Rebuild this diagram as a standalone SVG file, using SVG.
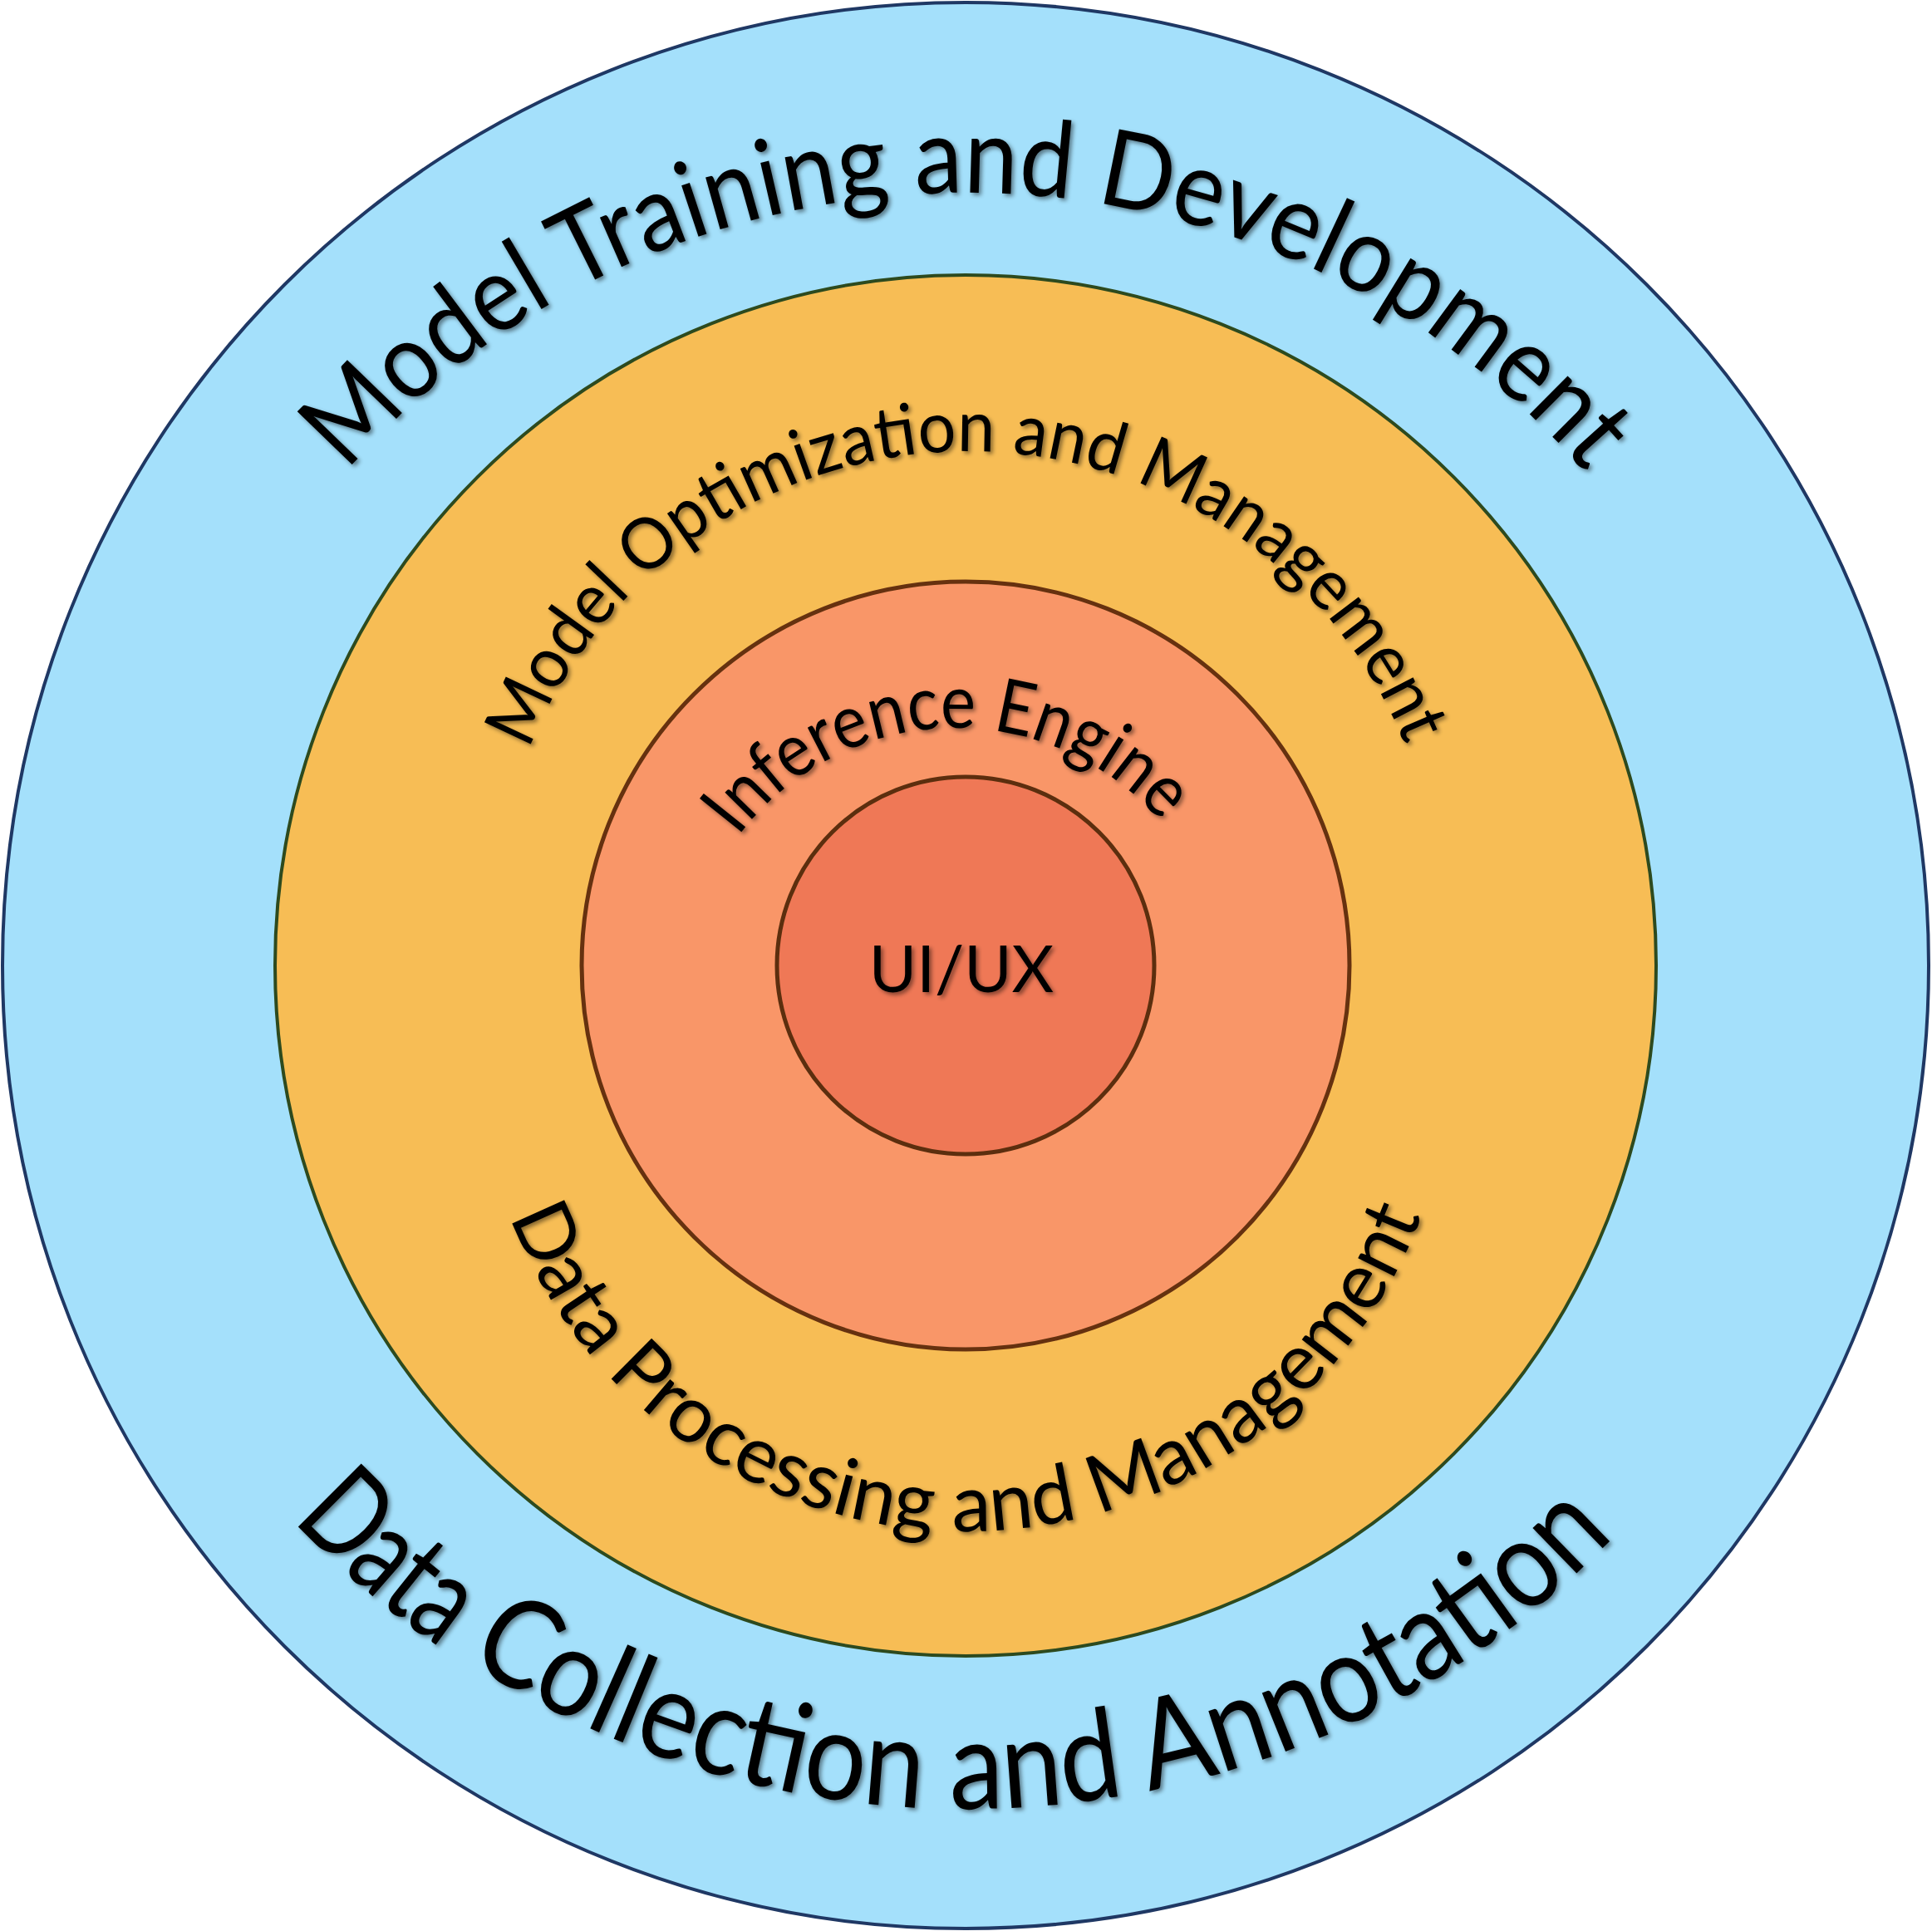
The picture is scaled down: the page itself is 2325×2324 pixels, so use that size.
<svg xmlns="http://www.w3.org/2000/svg" xmlns:xlink="http://www.w3.org/1999/xlink" width="2325" height="2324" viewBox="0 0 2325 2324">
<style>
.lbl{font-family:"Lato","Open Sans","Liberation Sans",sans-serif;fill:#000;filter:url(#sh)}
</style>
<defs>
<filter id="sh" x="-10%" y="-10%" width="120%" height="120%">
<feDropShadow dx="3" dy="3" stdDeviation="2.5" flood-color="#000" flood-opacity="0.45"/>
</filter>
<path id="p1" d="M417.5,567.6 A968,930 0 0 1 1906.5,567.6"/>
<path id="p2a" d="M352.2,1829.6 A1075,1015 0 0 0 558.5,2002"/>
<path id="p2b" d="M561.2,1998.2 A1060,1015 0 0 0 1940.6,1850.8"/>
<path id="p3" d="M636.6,902.8 A568,568 0 0 1 1690.9,896.4"/>
<path id="p4" d="M613.8,1464.1 A586,586 0 0 0 1710.2,1464.1"/>
<path id="p5" d="M888,1007 A327,327 0 0 1 1397,989"/>
</defs>
<rect width="2325" height="2324" fill="#fff"/>
<g id="ring-data-collection">
<circle cx="1162" cy="1162" r="1159" fill="#A4E0FB" stroke="#1F3864" stroke-width="4"/>
<text class="lbl" font-size="128"><textPath xlink:href="#p1" href="#p1" textLength="1686" lengthAdjust="spacingAndGlyphs">Model Training and Development</textPath></text>
<text class="lbl" font-size="150" xml:space="preserve"><textPath xlink:href="#p2a" href="#p2a" textLength="265" lengthAdjust="spacingAndGlyphs">Data </textPath><textPath xlink:href="#p2b" href="#p2b" textLength="1506" lengthAdjust="spacingAndGlyphs">Collection and Annotation</textPath></text>
</g>
<g id="ring-model-optimization">
<circle cx="1162" cy="1162" r="831" fill="#F7BD55" stroke="#2D4A1E" stroke-width="4"/>
<text class="lbl" font-size="86"><textPath xlink:href="#p3" href="#p3" textLength="1351" lengthAdjust="spacingAndGlyphs">Model Optimization and Management</textPath></text>
<text class="lbl" font-size="96"><textPath xlink:href="#p4" href="#p4" textLength="1418" lengthAdjust="spacingAndGlyphs">Data Processing and Management</textPath></text>
</g>
<g id="ring-inference-engine">
<circle cx="1162" cy="1162" r="462" fill="#F99668" stroke="#66310F" stroke-width="5"/>
<text class="lbl" font-size="90"><textPath xlink:href="#p5" href="#p5" textLength="584" lengthAdjust="spacingAndGlyphs">Inference Engine</textPath></text>
</g>
<g id="core-uiux">
<circle cx="1162" cy="1162" r="227" fill="#EF7856" stroke="#5C2E0E" stroke-width="5"/>
<text class="lbl" x="1157" y="1194" font-size="78" text-anchor="middle">UI/UX</text>
</g>
</svg>
